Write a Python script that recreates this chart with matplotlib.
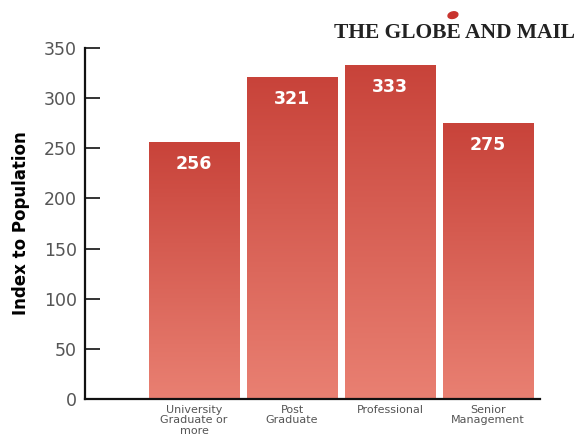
import numpy as np
import matplotlib
matplotlib.use("Agg")
import matplotlib.pyplot as plt
from matplotlib.colors import LinearSegmentedColormap
from matplotlib.patches import Ellipse

categories = ["University\nGraduate or\nmore", "Post\nGraduate", "Professional", "Senior\nManagement"]
values = [256, 321, 333, 275]
yticks = [0, 50, 100, 150, 200, 250, 300, 350]

fig = plt.figure(figsize=(5.77, 4.45), dpi=100)
ax = fig.add_axes([0.1473, 0.1034, 0.7887, 0.7886])

x = np.arange(len(values))
bars = ax.bar(x, values, width=0.92, color="none", edgecolor="none")

# vertical gradient for each bar, dark red at top to salmon at bottom
cmap = LinearSegmentedColormap.from_list("grad", ["#e98072", "#c8433a"])
grad = np.linspace(0, 1, 256).reshape(-1, 1)
for b, v in zip(bars, values):
    x0 = b.get_x()
    w = b.get_width()
    im = ax.imshow(grad, cmap=cmap, origin="lower", aspect="auto",
                   extent=[x0, x0 + w, 0, v], vmin=0, vmax=1, zorder=2)
    im.set_clip_path(b)
    ax.text(x0 + w / 2, v - 22, str(v), ha="center", va="center",
            color="white", fontsize=12.5, fontweight="bold", zorder=3)

ax.set_xlim(-1.112, 3.53)
ax.set_ylim(0, 350)
ax.set_yticks(yticks)
ax.set_xticks(x)
ax.set_xticklabels(categories, fontsize=8, color="#555555", linespacing=1.1)
ax.tick_params(axis="x", length=0, pad=4)
ax.tick_params(axis="y", direction="in", length=11, width=1.2, colors="#111111",
               labelcolor="#555555", labelsize=12.5, pad=6)
for s in ["top", "right"]:
    ax.spines[s].set_visible(False)
for s in ["left", "bottom"]:
    ax.spines[s].set_linewidth(1.6)
    ax.spines[s].set_color("#111111")

ax.set_ylabel("Index to Population", fontsize=12, fontweight="bold", labelpad=10)

fig.text(0.997, 0.925, "THE GLOBE AND MAIL", ha="right", va="center",
         family="Liberation Serif", fontweight="bold", fontsize=15.5, color="#222222")
fig.patches.append(Ellipse((0.785, 0.966), 0.018, 0.014, transform=fig.transFigure,
                           color="#c8332e", angle=30))

fig.savefig("out.png", dpi=100)
